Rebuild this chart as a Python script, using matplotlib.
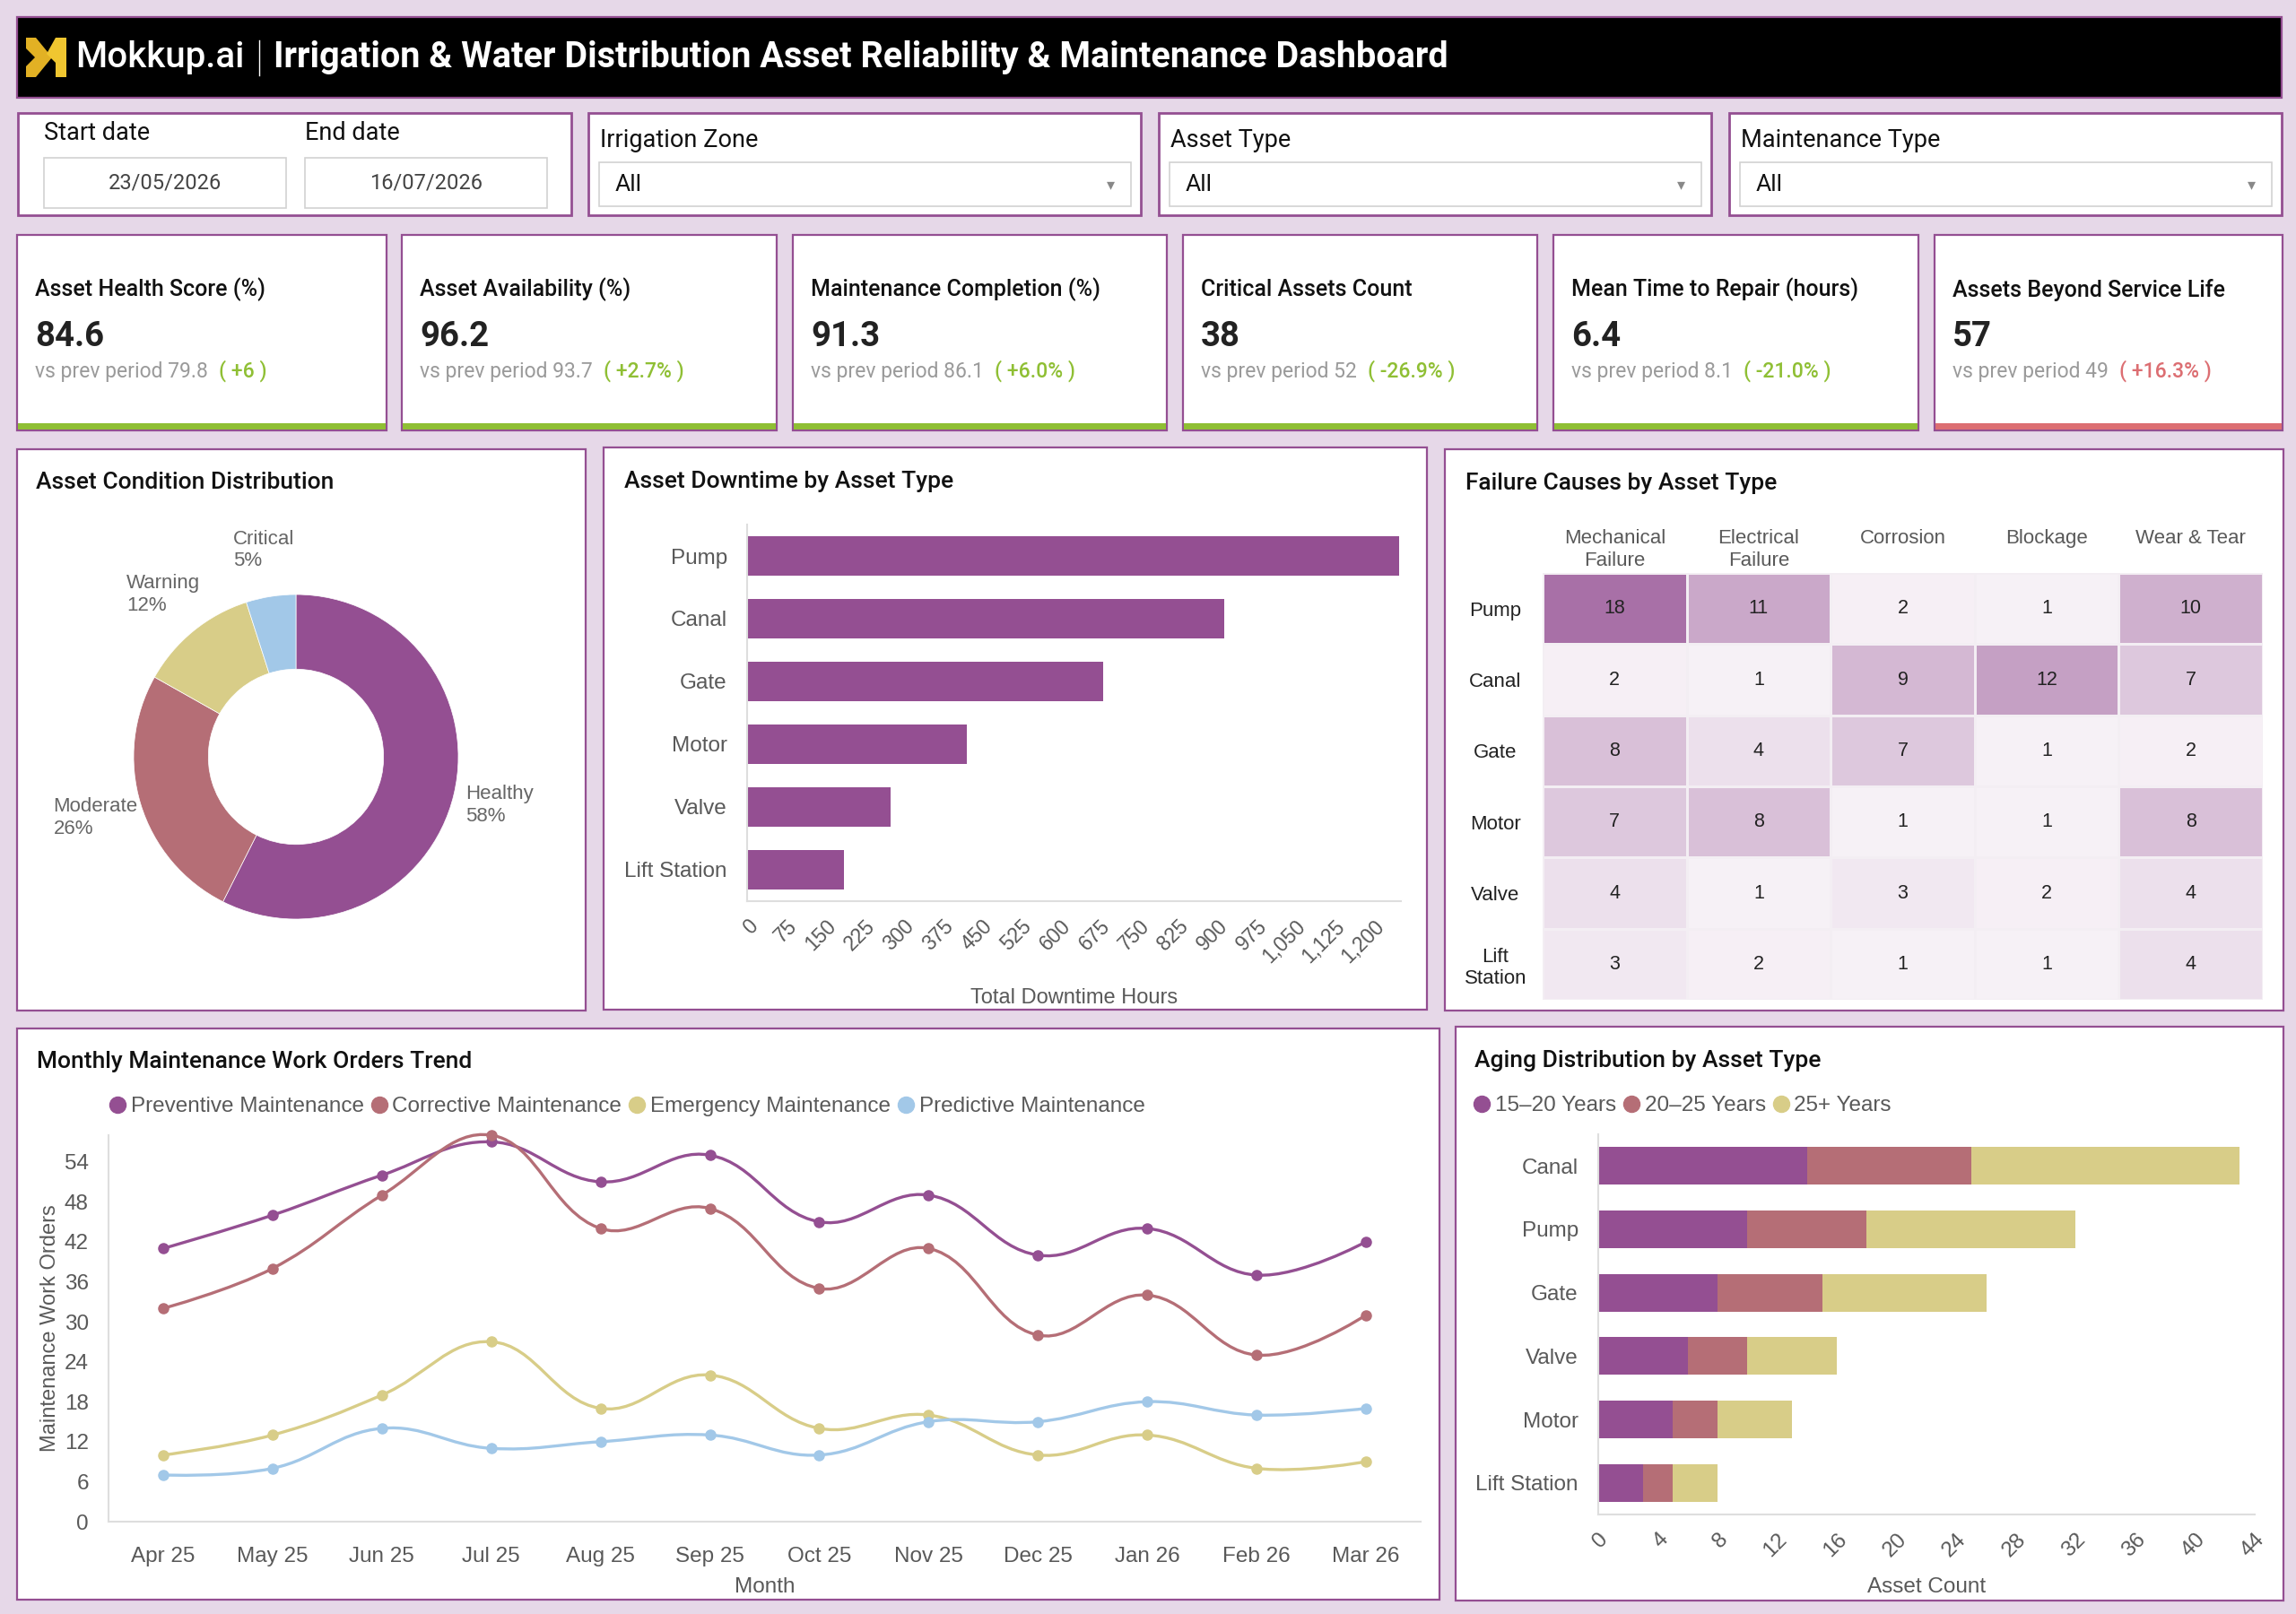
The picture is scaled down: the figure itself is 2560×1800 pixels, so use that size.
import matplotlib
matplotlib.use('Agg')
import matplotlib.pyplot as plt
from matplotlib.patches import Rectangle, Polygon, PathPatch
from matplotlib.path import Path
from matplotlib.lines import Line2D
from matplotlib.colors import LinearSegmentedColormap
import numpy as np

plt.rcParams['font.family'] = ['Roboto', 'DejaVu Sans']

# ---- data ----
start_date = '23/05/2026'
end_date = '16/07/2026'
filter_names = ['Irrigation Zone', 'Asset Type', 'Maintenance Type']
filter_values = ['All', 'All', 'All']

kpi_titles = ['Asset Health Score (%)', 'Asset Availability (%)', 'Maintenance Completion (%)',
              'Critical Assets Count', 'Mean Time to Repair (hours)', 'Assets Beyond Service Life']
kpi_values = ['84.6', '96.2', '91.3', '38', '6.4', '57']
kpi_prev = ['79.8', '93.7', '86.1', '52', '8.1', '49']
kpi_change = ['+6', '+2.7%', '+6.0%', '-26.9%', '-21.0%', '+16.3%']
kpi_good = [True, True, True, True, True, False]

condition_labels = ['Healthy', 'Moderate', 'Warning', 'Critical']
condition_pct = [58, 26, 12, 5]

downtime_assets = ['Pump', 'Canal', 'Gate', 'Motor', 'Valve', 'Lift Station']
downtime_hours = [1248, 914, 682, 420, 275, 186]

failure_assets = ['Pump', 'Canal', 'Gate', 'Motor', 'Valve', 'Lift\nStation']
failure_causes = ['Mechanical\nFailure', 'Electrical\nFailure', 'Corrosion', 'Blockage', 'Wear & Tear']
failure_counts = [[18, 11, 2, 1, 10],
                  [2, 1, 9, 12, 7],
                  [8, 4, 7, 1, 2],
                  [7, 8, 1, 1, 8],
                  [4, 1, 3, 2, 4],
                  [3, 2, 1, 1, 4]]

months = ['Apr 25', 'May 25', 'Jun 25', 'Jul 25', 'Aug 25', 'Sep 25',
          'Oct 25', 'Nov 25', 'Dec 25', 'Jan 26', 'Feb 26', 'Mar 26']
preventive = [41, 46, 52, 57, 51, 55, 45, 49, 40, 44, 37, 42]
corrective = [32, 38, 49, 58, 44, 47, 35, 41, 28, 34, 25, 31]
emergency = [10, 13, 19, 27, 17, 22, 14, 16, 10, 13, 8, 9]
predictive = [7, 8, 14, 11, 12, 13, 10, 15, 15, 18, 16, 17]
series_names = ['Preventive Maintenance', 'Corrective Maintenance',
                'Emergency Maintenance', 'Predictive Maintenance']

aging_assets = ['Canal', 'Pump', 'Gate', 'Valve', 'Motor', 'Lift Station']
age_15_20 = [14, 10, 8, 6, 5, 3]
age_20_25 = [11, 8, 7, 4, 3, 2]
age_25_plus = [18, 14, 11, 6, 5, 3]
age_names = ['15–20 Years', '20–25 Years', '25+ Years']

# ---- style ----
PURPLE = '#944f92'
ROSE = '#b56e76'
KHAKI = '#d8cd88'
SKY = '#a2c8e8'
BG = '#e6d8e8'
GREEN = '#8fbf34'
RED = '#dc6e72'
GRAY = '#595959'
CF = ['Liberation Sans', 'DejaVu Sans']

W, H = 2560, 1800
fig = plt.figure(figsize=(W / 100, H / 100), dpi=100, facecolor=BG)


def rect(x0, y0, x1, y1, fc='white', ec=PURPLE, lw=1.6, z=-5):
    fig.add_artist(Rectangle((x0 / W, 1 - y1 / H), (x1 - x0) / W, (y1 - y0) / H,
                             transform=fig.transFigure, fc=fc, ec=ec, lw=lw, zorder=z))


def txt(x, y, s, **kw):
    kw.setdefault('va', 'center')
    return fig.text(x / W, 1 - y / H, s, **kw)


def add_ax(x0, y0, x1, y1):
    return fig.add_axes([x0 / W, 1 - y1 / H, (x1 - x0) / W, (y1 - y0) / H])


def clean(ax, size=17.5):
    for s in ['top', 'right']:
        ax.spines[s].set_visible(False)
    for s in ['left', 'bottom']:
        ax.spines[s].set_color('#dedede')
        ax.spines[s].set_linewidth(1.5)
    ax.tick_params(length=0, labelcolor=GRAY, labelsize=size)
    for lab in ax.get_xticklabels() + ax.get_yticklabels():
        lab.set_family(CF)


# ---- header ----
rect(19, 19, 2544, 109, fc='black', ec=PURPLE, lw=1.6)
fig.add_artist(Polygon([(x / W, 1 - y / H) for x, y in
                        [(29, 42), (40, 42), (58, 64), (40, 86), (29, 86), (29, 74), (39, 64), (29, 54)]],
                       closed=True, transform=fig.transFigure, fc='#e2b124', ec='none'))
fig.add_artist(Polygon([(x / W, 1 - y / H) for x, y in
                        [(62, 42), (74, 42), (74, 86), (62, 86), (62, 70), (52, 60)]],
                       closed=True, transform=fig.transFigure, fc='#f0c630', ec='none'))
txt(84, 64, 'Mokkup.ai', color='white', fontsize=29, fontweight='medium')
fig.add_artist(Line2D([289 / W, 289 / W], [1 - 45 / H, 1 - 84 / H], color='white', lw=1,
                      transform=fig.transFigure))
txt(305, 64, 'Irrigation & Water Distribution Asset Reliability & Maintenance Dashboard',
    color='white', fontsize=28.5, fontweight='bold')

# ---- filters ----
rect(20, 126, 637, 240, lw=2)
txt(49, 149, 'Start date', fontsize=19.5, color='#111')
txt(340, 149, 'End date', fontsize=19.5, color='#111')
for (bx, val) in [(49, start_date), (340, end_date)]:
    rect(bx, 176, bx + 270, 232, ec='#d2d2d2', lw=1.2, z=-4)
    txt(bx + 135, 204, val, fontsize=17, color='#444', ha='center')

fx0 = [656, 1292, 1928]
for i, x0 in enumerate(fx0):
    rect(x0, 126, x0 + 616, 240, lw=2)
    txt(x0 + 13, 157, filter_names[i], fontsize=19.5, color='#111')
    rect(x0 + 12, 181, x0 + 605, 230, ec='#d2d2d2', lw=1.2, z=-4)
    txt(x0 + 30, 206, filter_values[i], fontsize=19, color='#111')
    txt(x0 + 582, 206, '▾', fontsize=13, color='#888', ha='center')

# ---- KPI cards ----
cards = [(19, 431), (448, 866), (884, 1301), (1319, 1714), (1732, 2139), (2157, 2545)]
renderer = fig.canvas.get_renderer()
for i, (x0, x1) in enumerate(cards):
    rect(x0, 262, x1, 480, lw=1.6)
    col = GREEN if kpi_good[i] else RED
    rect(x0 + 1, 472, x1 - 1, 479, fc=col, ec='none', lw=0, z=-4)
    txt(x0 + 20, 323, kpi_titles[i], fontsize=18, fontweight='medium', color='#111')
    txt(x0 + 20, 375, kpi_values[i], fontsize=27.5, fontweight='bold', color='#222')
    t = txt(x0 + 20, 414, 'vs prev period ' + kpi_prev[i], fontsize=16.5, color='#9a9a9a')
    bb = t.get_window_extent(renderer=renderer)
    fig.text((bb.x1 + 12) / W, 1 - 414 / H, '( ' + kpi_change[i] + ' )', fontsize=16.5,
             color=col, va='center', fontweight='medium')

# ---- middle panels ----
rect(19, 501, 653, 1127)
rect(673, 499, 1591, 1126)
rect(1611, 501, 2546, 1127)
txt(40, 538, 'Asset Condition Distribution', fontsize=19, fontweight='medium', color='#111')
txt(696, 537, 'Asset Downtime by Asset Type', fontsize=19, fontweight='medium', color='#111')
txt(1634, 539, 'Failure Causes by Asset Type', fontsize=19, fontweight='medium', color='#111')

# donut
ax = add_ax(149, 663, 511, 1025)
wedges, texts = ax.pie(condition_pct, colors=[PURPLE, ROSE, KHAKI, SKY], startangle=90,
                       counterclock=False, radius=1,
                       labels=[f'{l}\n{p}%' for l, p in zip(condition_labels, condition_pct)],
                       labeldistance=1.29,
                       wedgeprops=dict(width=0.46, edgecolor='white', linewidth=0.5),
                       textprops=dict(fontsize=16, color='#666', family=CF))
for t in texts:
    t.set_ha('center')
    t.set_multialignment('left')
ax.set_xlim(-1, 1)
ax.set_ylim(-1, 1)
ax.axis('off')

# downtime bars
ax = add_ax(833, 585, 1562, 1005)
ypos = np.arange(len(downtime_assets))
ax.barh(ypos, downtime_hours, height=0.63, color=PURPLE)
ax.set_ylim(len(downtime_assets) - 0.5, -0.5)
ax.set_xlim(0, 1252)
ax.set_yticks(ypos, downtime_assets)
ax.set_xticks(np.arange(0, 1201, 75), [f'{v:,}' for v in range(0, 1201, 75)])
clean(ax)
ax.tick_params(axis='y', pad=16)
ax.tick_params(axis='x', pad=12, labelsize=16.5)
for lab in ax.get_xticklabels():
    lab.set_rotation(45)
    lab.set_ha('right')
    lab.set_va('top')
    lab.set_rotation_mode('anchor')
ax.set_xlabel('Total Downtime Hours', fontsize=17, color=GRAY, family=CF)
ax.xaxis.set_label_coords(0.5, -0.23)

# heatmap
ax = add_ax(1720, 639, 2523, 1115)
vals = np.array(failure_counts)
lo = tuple(np.array([255, 255, 255]) / 255 * 0.92 + np.array([148, 79, 146]) / 255 * 0.08)
hi = tuple(np.array([255, 255, 255]) / 255 * 0.19 + np.array([148, 79, 146]) / 255 * 0.81)
cmap = LinearSegmentedColormap.from_list('fail', [lo, hi])
ax.pcolormesh(vals, cmap=cmap, vmin=1.8, vmax=18, edgecolors='#f3eef3', linewidth=1)
ax.set_ylim(len(failure_assets), 0)
ax.set_xlim(0, len(failure_causes))
for i in range(vals.shape[0]):
    for j in range(vals.shape[1]):
        ax.text(j + 0.5, i + 0.5, str(vals[i, j]), ha='center', va='center',
                fontsize=15.5, color='#222', family=CF)
ax.set_xticks(np.arange(len(failure_causes)) + 0.5, failure_causes)
ax.set_yticks(np.arange(len(failure_assets)) + 0.5, failure_assets)
ax.xaxis.tick_top()
ax.tick_params(length=0, labelsize=16, labelcolor='#222')
ax.tick_params(axis='x', pad=35)
ax.tick_params(axis='y', pad=38)
for lab in ax.get_xticklabels():
    lab.set_va('top')
    lab.set_family(CF)
    lab.set_color(GRAY)
for lab in ax.get_yticklabels():
    lab.set_ha('center')
    lab.set_family(CF)
for s in ax.spines.values():
    s.set_visible(False)

# ---- bottom panels ----
rect(19, 1147, 1605, 1784)
rect(1623, 1145, 2546, 1785)
txt(41, 1184, 'Monthly Maintenance Work Orders Trend', fontsize=19, fontweight='medium', color='#111')
txt(1644, 1183, 'Aging Distribution by Asset Type', fontsize=19, fontweight='medium', color='#111')


def smooth_path(xs, ys, sx, sy, t=0.4):
    P = np.column_stack([np.asarray(xs, float) * sx, np.asarray(ys, float) * sy])
    n = len(P)
    cin, cout = P.copy(), P.copy()
    for i in range(1, n - 1):
        d01 = np.hypot(*(P[i] - P[i - 1]))
        d12 = np.hypot(*(P[i + 1] - P[i]))
        s01 = d01 / (d01 + d12)
        s12 = d12 / (d01 + d12)
        cin[i] = P[i] - t * s01 * (P[i + 1] - P[i - 1])
        cout[i] = P[i] + t * s12 * (P[i + 1] - P[i - 1])
    verts = [P[0]]
    codes = [Path.MOVETO]
    for i in range(n - 1):
        verts += [cout[i], cin[i + 1], P[i + 1]]
        codes += [Path.CURVE4] * 3
    return Path(np.array(verts) / [sx, sy], codes)


ax = add_ax(121, 1266, 1584, 1697)
xs = np.arange(len(months))
line_colors = [PURPLE, ROSE, KHAKI, SKY]
for ys, c in zip([preventive, corrective, emergency, predictive], line_colors):
    ax.add_patch(PathPatch(smooth_path(xs, ys, 121.8, 7.44), fill=False, ec=c, lw=2.4,
                           clip_on=False, zorder=2))
    ax.plot(xs, ys, 'o', color=c, markersize=8, clip_on=False, zorder=3)
ax.set_xlim(-0.5, len(months) - 0.5)
ax.set_ylim(0, 58)
ax.set_xticks(xs, months)
ax.set_yticks(range(0, 55, 6))
clean(ax)
ax.tick_params(axis='x', pad=20)
ax.tick_params(axis='y', pad=16)
ax.set_xlabel('Month', fontsize=17.5, color=GRAY, family=CF)
ax.xaxis.set_label_coords(0.5, -0.145)
ax.set_ylabel('Maintenance Work Orders', fontsize=17, color=GRAY, family=CF)
ax.yaxis.set_label_coords(-0.037, 0.5)
handles = [Line2D([], [], marker='o', ls='', color=c, markersize=13) for c in line_colors]
fig.legend(handles, series_names, loc='center left', bbox_to_anchor=(124 / W, 1 - 1234 / H),
           ncol=4, frameon=False, handlelength=0.6, handletextpad=0.3, columnspacing=0.4,
           borderpad=0, borderaxespad=0, prop={'family': CF, 'size': 17.5}, labelcolor=GRAY)

# aging stacked bars
ax = add_ax(1782, 1265, 2514, 1689)
ypos = np.arange(len(aging_assets))
left = np.zeros(len(aging_assets))
for vals_, c in zip([age_15_20, age_20_25, age_25_plus], [PURPLE, ROSE, KHAKI]):
    ax.barh(ypos, vals_, left=left, height=0.59, color=c)
    left = left + np.array(vals_)
ax.set_ylim(len(aging_assets) - 0.5, -0.5)
ax.set_xlim(0, 44)
ax.set_yticks(ypos, aging_assets)
ax.set_xticks(range(0, 45, 4))
clean(ax)
ax.tick_params(axis='y', pad=16)
ax.tick_params(axis='x', pad=12)
for lab in ax.get_xticklabels():
    lab.set_rotation(45)
    lab.set_ha('right')
    lab.set_va('top')
    lab.set_rotation_mode('anchor')
ax.set_xlabel('Asset Count', fontsize=17.5, color=GRAY, family=CF)
ax.xaxis.set_label_coords(0.5, -0.165)
handles = [Line2D([], [], marker='o', ls='', color=c, markersize=13) for c in [PURPLE, ROSE, KHAKI]]
fig.legend(handles, age_names, loc='center left', bbox_to_anchor=(1645 / W, 1 - 1233 / H),
           ncol=3, frameon=False, handlelength=0.6, handletextpad=0.3, columnspacing=0.4,
           borderpad=0, borderaxespad=0, prop={'family': CF, 'size': 17.5}, labelcolor=GRAY)

fig.savefig('out.png', dpi=100, facecolor=BG)
